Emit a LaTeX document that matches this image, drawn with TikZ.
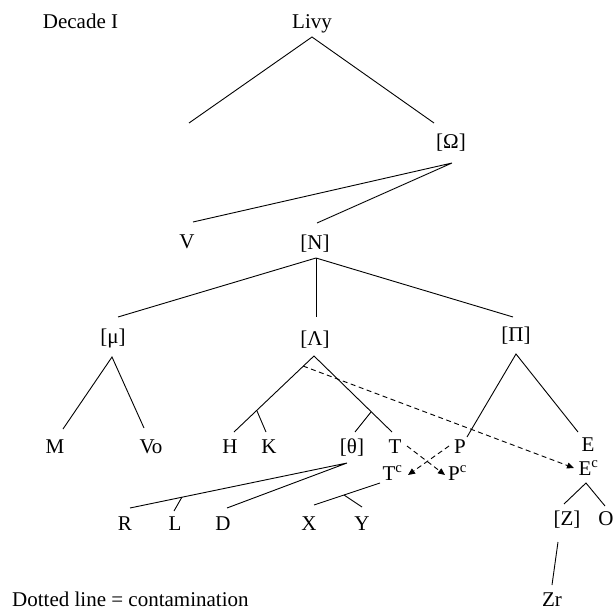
\documentclass[tikz,border=0pt]{standalone}
\usepackage{fontspec}
\setmainfont{Liberation Serif}
\usetikzlibrary{arrows.meta}
\begin{document}
\begin{tikzpicture}[x=1pt,y=-1pt,
  lbl/.style={anchor=base,inner sep=0pt,font=\fontsize{21}{25}\selectfont},
  edge/.style={line width=0.9pt},
  contam/.style={line width=0.9pt,dash pattern=on 5pt off 3.5pt,-{Triangle[length=7pt,width=6pt]}}]
\useasboundingbox (0,0) rectangle (614,610);
% labels
\node[lbl] (decade) at (80.5,29) {Decade I};
\node[lbl] (livy) at (312,29) {Livy};
\node[lbl] (omega) at (451,149) {[Ω]};
\node[lbl] (V) at (187,248) {V};
\node[lbl] (N) at (315,249) {[N]};
\node[lbl] (mu) at (113,343) {[μ]};
\node[lbl] (lambda) at (315,345) {[Λ]};
\node[lbl] (pi) at (516,341) {[Π]};
\node[lbl] (M) at (55,453) {M};
\node[lbl] (Vo) at (151,453) {Vo};
\node[lbl] (H) at (230,453) {H};
\node[lbl] (K) at (269,453) {K};
\node[lbl] (theta) at (352,453) {[θ]};
\node[lbl] (T) at (395,453) {T};
\node[lbl] (P) at (460,453) {P};
\node[lbl] (E) at (588,451) {E};
\node[lbl] (Tc) at (392.5,480) {T\textsuperscript{c}};
\node[lbl] (Pc) at (457.5,480) {P\textsuperscript{c}};
\node[lbl] (Ec) at (588.5,475) {E\textsuperscript{c}};
\node[lbl] (Z) at (567,525) {[Z]};
\node[lbl] (O) at (606,525) {O};
\node[lbl] (Zr) at (552,606) {Zr};
\node[lbl] (R) at (125,530) {R};
\node[lbl] (L) at (175,530) {L};
\node[lbl] (D) at (223,530) {D};
\node[lbl] (X) at (309,530) {X};
\node[lbl] (Y) at (362,530) {Y};
\node[lbl,anchor=base west] (legend) at (12,606) {Dotted line = contamination};
% connector points
\coordinate (livyA) at (312,37);
\coordinate (livyL) at (189,123);
\coordinate (livyR) at (434,123);
\coordinate (omA) at (452,163);
\coordinate (omV) at (193,222);
\coordinate (omN) at (317,223);
\coordinate (nA) at (316,258);
\coordinate (nL) at (118,317);
\coordinate (nM) at (316,317);
\coordinate (nR) at (513,317);
\coordinate (muA) at (112,357);
\coordinate (muM) at (63,429);
\coordinate (muV) at (144,428);
\coordinate (laA) at (314,356);
\coordinate (laH) at (234,432);
\coordinate (laHK) at (257,411);
\coordinate (laK) at (266,432);
\coordinate (laT) at (392,432);
\coordinate (laTT) at (371,412);
\coordinate (laTh) at (355,432);
\coordinate (piA) at (516,354);
\coordinate (piP) at (467,437);
\coordinate (piE) at (578,432);
\coordinate (thA) at (347,463);
\coordinate (thR) at (130,508);
\coordinate (thRL) at (182,497);
\coordinate (thL) at (174,511);
\coordinate (thD) at (227,508);
\coordinate (tcA) at (380,483);
\coordinate (tcX) at (314,505);
\coordinate (tcXY) at (344,495);
\coordinate (tcY) at (362,507);
\coordinate (ecA) at (586,483);
\coordinate (ecZ) at (564,504);
\coordinate (ecO) at (605,506);
\coordinate (zA) at (558,542);
\coordinate (zZr) at (552,585);
\coordinate (cS) at (303,366);
\coordinate (cE) at (574,468);
\coordinate (cT) at (407,446);
\coordinate (cPc) at (445,475);
\coordinate (cP) at (449,446);
\coordinate (cTc) at (408,475);
% tree edges
\draw[edge] (livyL) -- (livyA) -- (livyR);
\draw[edge] (omV) -- (omA) -- (omN);
\draw[edge] (nL) -- (nA) -- (nR);
\draw[edge] (nA) -- (nM);
\draw[edge] (muM) -- (muA) -- (muV);
\draw[edge] (laH) -- (laA) -- (laT);
\draw[edge] (laHK) -- (laK);
\draw[edge] (laTT) -- (laTh);
\draw[edge] (piP) -- (piA) -- (piE);
\draw[edge] (thR) -- (thA) -- (thD);
\draw[edge] (thRL) -- (thL);
\draw[edge] (tcA) -- (tcX);
\draw[edge] (tcXY) -- (tcY);
\draw[edge] (ecZ) -- (ecA) -- (ecO);
\draw[edge] (zA) -- (zZr);
% contamination
\draw[contam] (cS) -- (cE);
\draw[contam] (cT) -- (cPc);
\draw[contam] (cP) -- (cTc);
\end{tikzpicture}
\end{document}
